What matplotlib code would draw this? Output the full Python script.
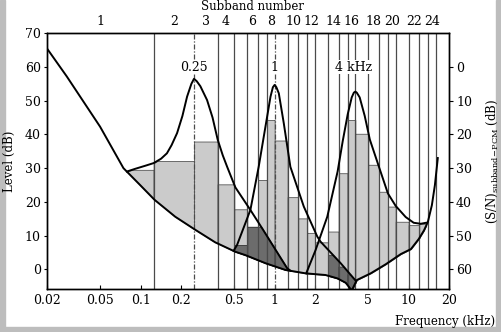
import matplotlib
matplotlib.use("Agg")
import matplotlib.pyplot as plt
from matplotlib.patches import Rectangle
from matplotlib.ticker import NullLocator
import numpy as np

plt.rcParams.update({"font.family": "DejaVu Serif", "font.size": 9,
                     "mathtext.fontset": "dejavuserif"})

nan = np.nan
# subband edges (kHz); band 1 is drawn from the left edge of the plot
edges = [0.02, 0.125, 0.25, 0.375, 0.5, 0.625, 0.75, 0.875, 1.0, 1.25, 1.5,
         1.75, 2.0, 2.5, 3.0, 3.5, 4.0, 5.0, 6.0, 7.0, 8.0, 10.0, 12.0, 14.0, 16.0]
# level of each subband box (dB), and the dark part inside some of them
band_level = [29.5, 32.1, 37.9, 25.2, 17.8, 12.6, 26.5, 44.3, 38.2, 21.4, 15.1, 10.8,
              8.0, 11.2, 28.5, 44.3, 40.2, 31.0, 23.0, 18.6, 14.1, 13.1, 13.5, nan]
dark_level = [nan, nan, nan, nan, 7.2, 12.6, 12.6, 12.6, 12.6, nan, nan, nan,
              nan, 4.2, 0.8, -1.5, nan, nan, nan, nan, nan, nan, nan, nan]
label_bands = [1, 2, 3, 4, 6, 8, 10, 12, 14, 16, 18, 20, 22, 24]

# lower curve (threshold)
thr_f = [0.02, 0.0281, 0.0498, 0.0744, 0.099, 0.127, 0.181, 0.256, 0.36, 0.509, 0.605,
         0.855, 1.205, 1.70, 2.40, 2.94, 3.39, 3.76, 4.10, 5.21, 6.75, 8.73,
         10.4, 11.9, 13.0, 13.9, 14.9, 15.7, 16.5]
thr_db = [65.5, 57.2, 42.3, 30.0, 25.0, 20.6, 15.6, 11.7, 8.0, 5.2, 4.2,
          1.8, -0.2, -1.2, -1.7, -2.7, -4.0, -6.3, -3.2, -1.2, 1.5, 4.5,
          6.0, 9.0, 11.5, 14.0, 19.0, 25.0, 33.0]

# masking curves of the three tones
m025_f = [0.079, 0.091, 0.108, 0.125, 0.142, 0.157, 0.17, 0.187, 0.205, 0.222, 0.239,
          0.25, 0.262, 0.279, 0.313, 0.344, 0.376, 0.41, 0.442, 0.509, 0.659, 0.811,
          0.997, 1.24, 1.31]
m025_db = [29.0, 29.8, 30.7, 31.5, 32.8, 34.4, 36.8, 40.4, 45.5, 51.2, 55.0,
           56.5, 55.8, 54.3, 50.2, 45.0, 38.4, 33.8, 30.4, 24.3, 17.6, 12.0,
           6.3, 0.3, -0.4]
m1k_f = [0.494, 0.524, 0.659, 0.760, 0.879, 0.931, 0.97, 1.0, 1.03, 1.074, 1.17,
         1.31, 1.65, 2.08, 2.20, 3.11, 4.05]
m1k_db = [5.5, 7.2, 17.6, 30.4, 45.3, 51.2, 54.0, 54.7, 54.0, 52.2, 43.3,
          30.4, 18.6, 9.7, 8.2, 1.8, -3.5]
m4k_f = [1.72, 2.02, 2.47, 2.95, 3.22, 3.51, 3.76, 3.9, 4.0, 4.1, 4.31, 4.70, 5.13,
         5.99, 7.0, 8.0, 9.5, 10.9, 12.3, 13.5]
m4k_db = [-1.2, 5.7, 15.6, 29.0, 38.0, 46.0, 51.0, 52.4, 52.7, 52.4, 51.0, 45.5, 38.5,
          30.5, 22.5, 18.8, 15.5, 13.8, 13.5, 13.8]

tone_labels = [(0.25, "0.25"), (1.0, "1"), (3.85, "4 kHz")]
dashed_edges = [0.25, 1.0]

freq_ticks = [0.02, 0.05, 0.1, 0.2, 0.5, 1, 2, 5, 10, 20]
freq_labels = ["0.02", "0.05", "0.1", "0.2", "0.5", "1", "2", "5", "10", "20"]
snr_ticks = [0, 10, 20, 30, 40, 50, 60]

LIGHT, DARK, GRID = "#cbcbcb", "#6c6c6c", "#4a4a4a"


def at(f, cf, cdb, outside=-np.inf):
    return np.interp(np.log10(f), np.log10(cf), cdb, left=outside, right=outside)


def lower(f):
    return np.interp(np.log10(f), np.log10(thr_f), thr_db)


def envelope(f):
    return np.maximum.reduce([lower(f), at(f, m025_f, m025_db),
                              at(f, m1k_f, m1k_db), at(f, m4k_f, m4k_db)])


fig = plt.figure(figsize=(5.01, 3.32), dpi=100)
ax = fig.add_axes([0.0938, 0.131, 0.8024, 0.7687])
ax.set_xscale("log")
ax.set_xlim(0.02, 20)
ax.set_ylim(-5.7, 70)

# subband boxes
for i in range(len(band_level)):
    fg = np.geomspace(edges[i], edges[i + 1], 80)
    lo = lower(fg)
    if not np.isnan(band_level[i]):
        hi = np.minimum(band_level[i], envelope(fg))
        ax.fill_between(fg, lo, hi, where=hi > lo, interpolate=True,
                        facecolor=LIGHT, edgecolor="#555555", lw=0.6, zorder=1)
    if not np.isnan(dark_level[i]):
        mask = (m025_f, m025_db) if i < 10 else (m1k_f, m1k_db)
        hi = np.minimum(dark_level[i], at(fg, *mask))
        ax.fill_between(fg, lo, hi, where=hi > lo, interpolate=True,
                        facecolor=DARK, edgecolor="#333333", lw=0.6, zorder=1.5)

# subband boundaries
for e in edges[1:]:
    ls = (0, (4, 1.5, 1, 1.5)) if e in dashed_edges else "-"
    ax.axvline(e, color=GRID, lw=0.9, ls=ls, zorder=2)

# curves
ax.plot(thr_f, thr_db, color="k", lw=1.4, zorder=3, solid_joinstyle="round")
for cf, cdb in [(m025_f, m025_db), (m1k_f, m1k_db), (m4k_f, m4k_db)]:
    ax.plot(cf, cdb, color="k", lw=1.4, zorder=3, solid_joinstyle="round")

for f, s in tone_labels:
    ax.text(f, 60, s, ha="center", va="center", zorder=5,
            bbox=dict(fc="white", ec="none", pad=0.6))

# subband numbers on top
for b in label_bands:
    fc = np.sqrt(edges[b - 1] * edges[b])
    ax.text(fc, 1.045, str(b), ha="center", va="center",
            transform=ax.get_xaxis_transform())
ax.text(0.51, 1.105, "Subband number", ha="center", va="center",
        transform=ax.transAxes, fontsize=8.5)

ax.set_xticks(freq_ticks)
ax.set_xticklabels(freq_labels)
ax.xaxis.set_minor_locator(NullLocator())
ax.set_yticks(range(0, 71, 10))
ax.tick_params(axis="x", direction="in", length=3, pad=4)
ax.tick_params(axis="y", direction="out", length=2.5, pad=2)
ax.set_ylabel("Level (dB)", labelpad=6, fontsize=8.5)
ax.text(1.114, -0.13, "Frequency (kHz)", ha="right", va="center",
        transform=ax.transAxes, fontsize=8.5)

ax2 = ax.twinx()
ax2.set_ylim(60 + 5.7, 60 - 70)
ax2.set_yticks(snr_ticks)
ax2.tick_params(axis="y", direction="out", length=3, pad=2)
ax2.set_ylabel(r"(S/N)$_{\mathrm{subband\!-\!PCM}}$ (dB)", labelpad=9, fontsize=8.5)

for a in (ax, ax2):
    for sp in a.spines.values():
        sp.set_linewidth(1.0)

gray = "#bdbdbd"
for r in [(0, 0, 5 / 501, 1), (1 - 5 / 501, 0, 5 / 501, 1), (0, 0, 1, 5 / 332)]:
    fig.patches.append(Rectangle(r[:2], r[2], r[3], transform=fig.transFigure,
                                 color=gray, zorder=-1))

fig.savefig("out.png", dpi=100)
